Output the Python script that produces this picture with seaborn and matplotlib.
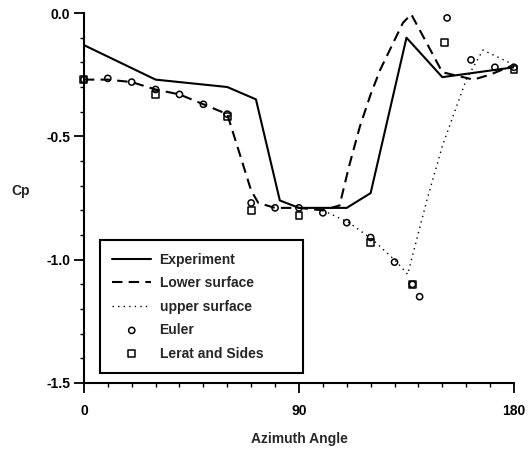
import matplotlib
matplotlib.use("Agg")
import matplotlib.pyplot as plt
from matplotlib.ticker import MultipleLocator
import seaborn as sns
import pandas as pd

# Pressure coefficient around the azimuth
exp_angle = [0, 30, 60, 72, 82, 90, 110, 120, 135, 150, 180]
exp_cp = [-0.13, -0.27, -0.30, -0.35, -0.76, -0.79, -0.79, -0.73, -0.10, -0.26, -0.22]

lower_angle = [0, 10, 20, 30, 40, 50, 60, 70, 73, 80, 90, 100, 107, 111, 115.5, 120, 124, 129.5, 133.5, 137, 150, 163, 170, 180]
lower_cp = [-0.27, -0.27, -0.28, -0.31, -0.33, -0.37, -0.41, -0.72, -0.77, -0.79, -0.79, -0.80, -0.78, -0.62, -0.46, -0.33, -0.23, -0.12, -0.04, -0.005, -0.24, -0.27, -0.25, -0.21]

upper_angle = [100, 111, 121, 131, 135.5, 143.5, 150, 160, 167, 180]
upper_cp = [-0.80, -0.85, -0.92, -1.01, -1.06, -0.76, -0.54, -0.27, -0.15, -0.21]

euler_angle = [0, 10, 20, 30, 40, 50, 60, 70, 80, 90, 100, 110, 120, 130, 137.5, 140.5, 152, 162, 172, 180]
euler_cp = [-0.27, -0.265, -0.28, -0.31, -0.33, -0.37, -0.41, -0.77, -0.79, -0.79, -0.81, -0.85, -0.91, -1.01, -1.10, -1.15, -0.02, -0.19, -0.22, -0.22]

lerat_angle = [0, 30, 60, 70, 90, 120, 137.5, 151, 180]
lerat_cp = [-0.27, -0.33, -0.42, -0.80, -0.82, -0.93, -1.10, -0.12, -0.23]

sns.set_style("ticks")
plt.rcParams["font.family"] = ["Liberation Sans", "DejaVu Sans"]
plt.rcParams["font.weight"] = "bold"

fig = plt.figure(figsize=(5.31, 4.49), dpi=100)
ax = fig.add_axes([0.158, 0.147, 0.810, 0.824])

exp_df = pd.DataFrame({"angle": exp_angle, "cp": exp_cp})
low_df = pd.DataFrame({"angle": lower_angle, "cp": lower_cp})
up_df = pd.DataFrame({"angle": upper_angle, "cp": upper_cp})
eu_df = pd.DataFrame({"angle": euler_angle, "cp": euler_cp})
le_df = pd.DataFrame({"angle": lerat_angle, "cp": lerat_cp})

sns.lineplot(data=exp_df, x="angle", y="cp", ax=ax, color="black", lw=1.5,
             sort=False, estimator=None, label="Experiment")
sns.lineplot(data=low_df, x="angle", y="cp", ax=ax, color="black", lw=1.5,
             sort=False, estimator=None, label="Lower surface")
ax.lines[-1].set_dashes([5, 3])
sns.lineplot(data=up_df, x="angle", y="cp", ax=ax, color="black", lw=1.0,
             sort=False, estimator=None, label="upper surface")
ax.lines[-1].set_linestyle((0, (1, 3)))
sns.scatterplot(data=eu_df, x="angle", y="cp", ax=ax, marker="o", s=20,
                facecolor="none", edgecolor="black", linewidth=1.1,
                label="Euler", clip_on=False, zorder=4)
sns.scatterplot(data=le_df, x="angle", y="cp", ax=ax, marker="s", s=24,
                facecolor="none", edgecolor="black", linewidth=1.1,
                label="Lerat and Sides", clip_on=False, zorder=4)

ax.set_xlim(0, 180)
ax.set_ylim(-1.5, 0.0)
ax.set_xticks([0, 90, 180])
ax.set_yticks([0.0, -0.5, -1.0, -1.5])
ax.set_yticklabels(["0.0", "-0.5", "-1.0", "-1.5"])
ax.xaxis.set_minor_locator(MultipleLocator(10))
ax.yaxis.set_minor_locator(MultipleLocator(0.1))
ax.tick_params(axis="both", which="major", direction="out", length=7, width=1.3,
               labelsize=10, color="black", labelcolor="black")
ax.tick_params(axis="both", which="minor", direction="out", length=3, width=1.0, color="black")
ax.tick_params(axis="x", which="major", pad=8)
ax.tick_params(axis="y", which="major", pad=3)
for side in ("left", "bottom"):
    ax.spines[side].set_linewidth(1.5)
    ax.spines[side].set_color("black")
sns.despine(ax=ax)

ax.set_xlabel("Azimuth Angle", fontsize=10, fontweight="bold", labelpad=10)
ax.set_ylabel("Cp", fontsize=10, fontweight="bold", rotation=0)
ax.yaxis.set_label_coords(-0.147, 0.50)

leg = ax.legend(loc="lower left", bbox_to_anchor=(0.037, 0.027, 0.472, 0.37),
                mode="expand", frameon=True, fancybox=False,
                prop={"size": 10, "weight": "bold"}, handlelength=2.8,
                borderpad=0.9, labelspacing=0.68, handletextpad=0.6,
                borderaxespad=0)
leg.get_frame().set_edgecolor("black")
leg.get_frame().set_linewidth(1.5)
leg.get_frame().set_alpha(1)

fig.savefig("out.png", dpi=100)
